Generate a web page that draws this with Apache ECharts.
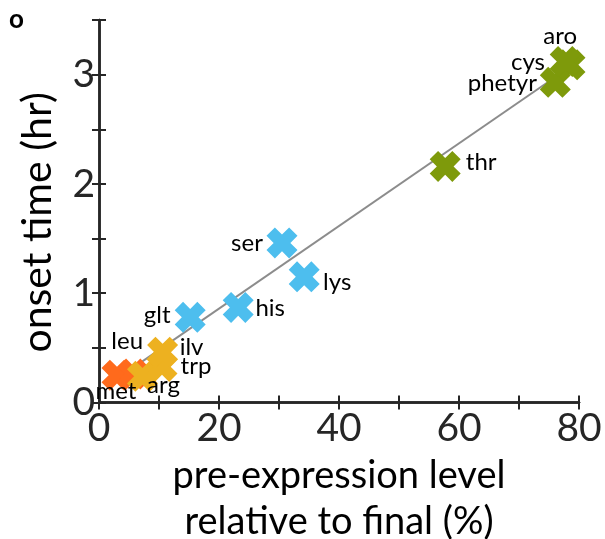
<!DOCTYPE html>
<html>
<head>
<meta charset="utf-8">
<script src="https://cdn.jsdelivr.net/npm/echarts@6/dist/echarts.min.js"></script>
<style>
  html, body { margin: 0; padding: 0; background: #fff; }
  #chart { width: 605px; height: 539px; }
</style>
</head>
<body>
<div id="chart"></div>
<script>
// Amino acid pathways: pre-expression level vs. onset time
const aminoAcids = ['met', 'leu', 'arg', 'trp', 'ilv', 'glt', 'his', 'ser', 'lys', 'thr', 'phetyr', 'cys', 'aro'];
const preExpression = [3.0, 5.7, 7.25, 10.5, 10.6, 15.2, 23.2, 30.5, 34.2, 57.7, 76.05, 78.5, 77.7];
const onsetTime = [0.25, 0.26, 0.24, 0.33, 0.46, 0.78, 0.87, 1.46, 1.15, 2.16, 2.93, 3.09, 3.12];
const groups = ['orange', 'orange', 'yellow', 'yellow', 'yellow', 'blue', 'blue', 'blue', 'blue', 'green', 'green', 'green', 'green'];

// Linear fit endpoints
const fitX = [3.0, 78.3];
const fitY = [0.216, 3.063];

// Tick labels
const xTickLabels = ['0', '20', '40', '60', '80'];
const yTickLabels = ['0', '1', '2', '3'];

// Styling
const palette = { orange: '#FF6A1C', yellow: '#EDB120', blue: '#4DBEEE', green: '#7E9A0B' };
const labelOffsets = {
  met: [-1, 16], leu: [-6, -33], arg: [21, 9], trp: [34, 0], ilv: [29, -5],
  glt: [-33, -2], his: [32, 1], ser: [-35, 0], lys: [33, 5], thr: [36, -4],
  phetyr: [-53, 1], cys: [-42, -3], aro: [-5, -25]
};
// thick "x" marker
const crossPath = 'path://M0,27L27,0L50,23L73,0L100,27L77,50L100,73L73,100L50,77L27,100L0,73L23,50Z';
const FONT = 'Lato';
const INK = '#262626';

const points = aminoAcids.map((name, i) => ({
  name: name,
  value: [preExpression[i], onsetTime[i]],
  itemStyle: { color: palette[groups[i]], opacity: 1 },
  label: { offset: labelOffsets[name] }
}));

const baseAxisLine = { show: true, lineStyle: { color: INK, width: 2.5 } };
const baseTick = { show: true, inside: true, length: 7, lineStyle: { color: INK, width: 2 } };

const chart = echarts.init(document.getElementById('chart'), null, { renderer: 'canvas' });
chart.setOption({
  animation: false,
  backgroundColor: '#fff',
  grid: { left: 99, top: 20, width: 480, height: 382.5, containLabel: false, outerBoundsMode: 'none' },
  graphic: [{
    type: 'text', left: 9, top: 7,
    style: { text: 'o', font: 'bold 26px ' + FONT, fill: '#000' }
  }],
  xAxis: [{
    type: 'value', min: 0, max: 80, interval: 10, position: 'bottom',
    axisLine: baseAxisLine, axisTick: baseTick, splitLine: { show: false },
    axisLabel: {
      color: INK, fontSize: 39, fontFamily: FONT, margin: 6,
      formatter: v => (xTickLabels.includes(String(v)) ? String(v) : '')
    },
    name: 'pre-expression level\nrelative to final (%)',
    nameLocation: 'middle', nameGap: 35,
    nameTextStyle: { color: '#000', fontSize: 38, fontFamily: FONT, lineHeight: 46 }
  }, {
    type: 'value', min: 0, max: 80, interval: 10, position: 'top',
    axisLine: baseAxisLine, axisTick: baseTick, axisLabel: { show: false }, splitLine: { show: false }
  }],
  yAxis: [{
    type: 'value', min: 0, max: 3.5, interval: 0.5, position: 'left',
    axisLine: baseAxisLine, axisTick: baseTick, splitLine: { show: false },
    axisLabel: {
      color: INK, fontSize: 39, fontFamily: FONT, margin: 4,
      formatter: v => (yTickLabels.includes(String(v)) ? String(v) : '')
    },
    name: 'onset time (hr)', nameLocation: 'middle', nameGap: 41,
    nameTextStyle: { color: '#000', fontSize: 41, fontFamily: FONT, padding: [0, 22, 0, 0] }
  }, {
    type: 'value', min: 0, max: 3.5, interval: 0.5, position: 'right',
    axisLine: baseAxisLine, axisTick: baseTick, axisLabel: { show: false }, splitLine: { show: false }
  }],
  series: [{
    type: 'line',
    data: fitX.map((x, i) => [x, fitY[i]]),
    symbol: 'none',
    lineStyle: { color: '#8C8C8C', width: 2 },
    z: 1,
    silent: true
  }, {
    type: 'scatter',
    data: points,
    symbol: crossPath,
    symbolSize: 31,
    clip: false,
    z: 3,
    label: {
      show: true, position: 'inside', formatter: '{b}',
      color: '#000', fontSize: 24, fontFamily: FONT
    }
  }]
});
</script>
</body>
</html>
